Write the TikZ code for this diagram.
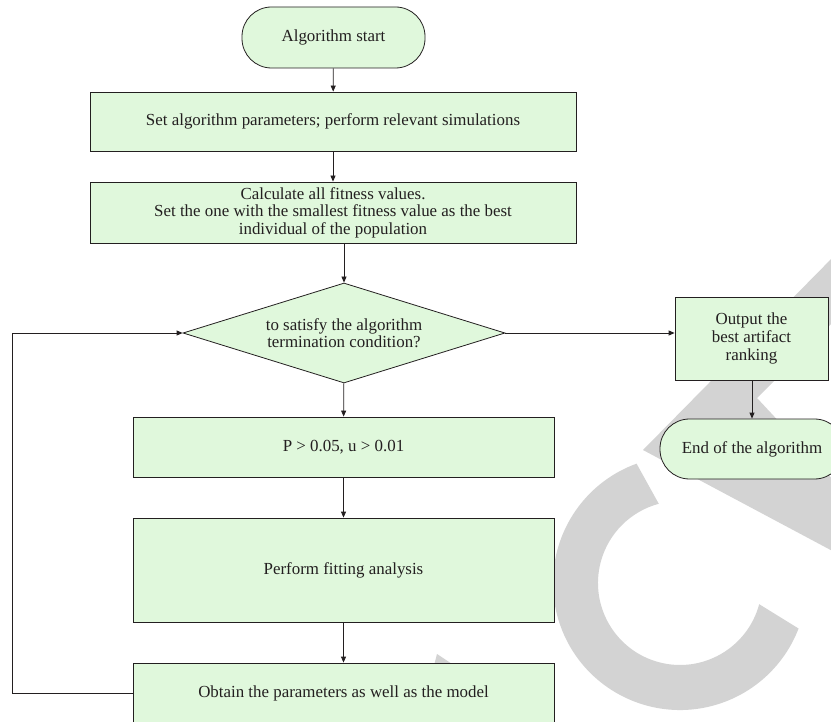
\documentclass[tikz,border=0pt]{standalone}
\usepackage{fontspec}
\setmainfont{Liberation Serif}
\usetikzlibrary{shapes.geometric,arrows.meta}
\definecolor{boxgreen}{RGB}{224,248,220}
\definecolor{markgray}{RGB}{211,211,211}
\definecolor{inkgray}{RGB}{35,31,32}

\begin{document}
\begin{tikzpicture}[x=1pt,y=-1pt,
  every node/.style={font=\fontsize{16.9}{17.6}\selectfont, text=inkgray},
  procbox/.style={draw=inkgray, fill=boxgreen, line width=0.8pt, inner sep=0pt, align=center},
  termbox/.style={procbox, rounded corners=29.5pt},
  decbox/.style={procbox, diamond, aspect=3.2},
  flow/.style={draw=inkgray, line width=0.8pt, -{Triangle[length=6pt,width=5pt]}}]
\useasboundingbox (0,0) rectangle (831,722);
% watermark behind the chart
\fill[markgray] (680,583) ++(-110:127) arc[start angle=-110, end angle=-339, radius=127]
  -- (759.2,604.2) arc[start angle=-345, end angle=-105, radius=82] -- cycle;
\fill[markgray] (840,250) -- (643,450) -- (840,555) -- (840,487) -- (757,398) -- (840,315) -- cycle;
\fill[markgray] (425,700) -- (437,654) -- (452,664) -- (452,700) -- cycle;

\node[termbox, minimum width=183pt, minimum height=61pt] (start) at (333.5,37.5) {Algorithm start};
\node[procbox, minimum width=486pt, minimum height=59pt] (params) at (333,121.5)
  {Set algorithm parameters; perform relevant simulations};
\node[procbox, minimum width=486pt, minimum height=61pt] (fitness) at (333,212.5)
  {Calculate all fitness values.\\Set the one with the smallest fitness value as the best\\individual of the population};
\node[decbox, minimum width=322pt, minimum height=100pt] (cond) at (344,333)
  {to satisfy the algorithm\\termination condition?};
\node[procbox, minimum width=421pt, minimum height=60pt] (check) at (343.5,447) {P > 0.05, u > 0.01};
\node[procbox, minimum width=421pt, minimum height=104pt] (fit) at (343.5,570) {Perform fitting analysis};
\node[procbox, minimum width=421pt, minimum height=61pt] (obtain) at (343.5,693.5)
  {Obtain the parameters as well as the model};
\node[procbox, minimum width=153pt, minimum height=83pt] (output) at (751.5,338.5)
  {Output the\\best artifact\\ranking};
\node[termbox, minimum width=184pt, minimum height=60pt] (finish) at (752,449) {End of the algorithm};
\coordinate (loop) at (12,693.5);

\draw[flow] (start) -- (params);
\draw[flow] (params) -- (params|-fitness.north);
\draw[flow] (fitness.south-|cond) -- (cond);
\draw[flow] (cond) -- (check);
\draw[flow] (check) -- (fit);
\draw[flow] (fit) -- (obtain);
\draw[flow] (cond.east) -- (output.west|-cond.east);
\draw[flow] (output.south-|finish) -- (finish);
\draw[flow] (obtain.west) -- (loop) |- (cond.west);
\end{tikzpicture}
\end{document}
